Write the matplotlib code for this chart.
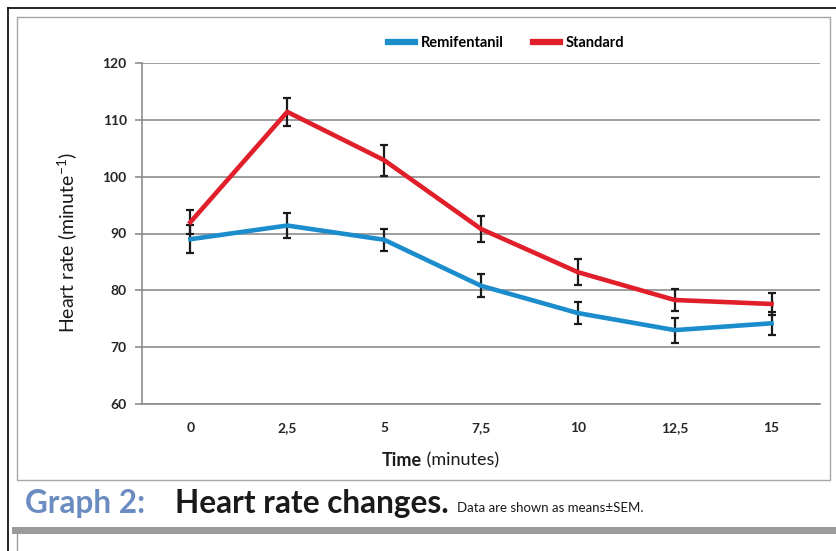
import matplotlib.pyplot as plt
from matplotlib.patches import Rectangle
from matplotlib.lines import Line2D
from matplotlib.offsetbox import TextArea, HPacker, AnchoredOffsetbox

times = ["0", "2,5", "5", "7,5", "10", "12,5", "15"]
remifentanil = [89.0, 91.4, 88.9, 80.8, 76.0, 73.0, 74.2]
remifentanil_sem = [2.5, 2.2, 1.9, 2.0, 2.0, 2.2, 2.0]
standard = [92.0, 111.4, 102.9, 90.8, 83.2, 78.3, 77.6]
standard_sem = [2.1, 2.4, 2.7, 2.3, 2.3, 2.0, 1.9]
y_ticks = [60, 70, 80, 90, 100, 110, 120]

BLUE = "#1b8ccc"
RED = "#e01f2b"
GRID = "#8c8c8c"
FONT = "Lato"

W, H = 836, 551
fig = plt.figure(figsize=(W / 100, H / 100), dpi=100)

def fx(px):
    return px / W

def fy(py):
    return 1 - py / H

# page frame and chart box
fig.patches.append(Line2D([fx(8), fx(8)], [fy(8), fy(551)], transform=fig.transFigure,
                          color="black", lw=1.2, figure=fig))
fig.patches.append(Line2D([fx(8), fx(836)], [fy(8), fy(8)], transform=fig.transFigure,
                          color="black", lw=1.2, figure=fig))
fig.patches.append(Rectangle((fx(17), fy(480)), fx(830) - fx(17), fy(17) - fy(480),
                             transform=fig.transFigure, fill=False, ec="#a6a6a6", lw=1.0))
fig.patches.append(Rectangle((fx(12), fy(534)), 1 - fx(12), fy(527) - fy(534),
                             transform=fig.transFigure, fc="#9b9b9b", ec="none"))
fig.patches.append(Line2D([fx(17), fx(17)], [fy(534), fy(551)], transform=fig.transFigure,
                          color="#9b9b9b", lw=1.0, figure=fig))

ax = fig.add_axes([fx(142), fy(404), fx(820) - fx(142), fy(63) - fy(404)])
x = list(range(len(times)))

ax.errorbar(x, standard, yerr=standard_sem, fmt="none", ecolor="#1a1a1a",
            elinewidth=1.6, capsize=3, capthick=1.6, zorder=2)
ax.errorbar(x, remifentanil, yerr=remifentanil_sem, fmt="none", ecolor="#1a1a1a",
            elinewidth=1.6, capsize=3, capthick=1.6, zorder=2)
ax.plot(x, remifentanil, color=BLUE, lw=3.3, solid_joinstyle="round", zorder=3,
        label="Remifentanil")
ax.plot(x, standard, color=RED, lw=3.3, solid_joinstyle="round", zorder=3,
        label="Standard")

ax.set_xlim(-0.5, len(times) - 0.5)
ax.set_ylim(60, 120)
ax.set_yticks(y_ticks)
ax.set_xticks(x)
ax.set_xticklabels(times)
ax.grid(axis="y", color=GRID, lw=1.2)
ax.set_axisbelow(True)
for s in ["top", "right"]:
    ax.spines[s].set_visible(False)
for s in ["left", "bottom"]:
    ax.spines[s].set_color(GRID)
    ax.spines[s].set_linewidth(1.2)
ax.tick_params(axis="y", length=5, width=1.2, color=GRID, pad=6, labelsize=10)
ax.tick_params(axis="x", length=0, pad=13, labelsize=10)
for lab in ax.get_xticklabels() + ax.get_yticklabels():
    lab.set_fontfamily(FONT)
    lab.set_fontweight("bold")
    lab.set_color("#262626")

leg = ax.legend(loc="center", bbox_to_anchor=(0.537, 1.058), ncol=2, frameon=False,
                prop={"family": FONT, "weight": "bold", "size": 10.5},
                handlelength=1.85, columnspacing=2.0, handletextpad=0.4)
for h in leg.get_lines():
    h.set_linewidth(4.5)

fig.text(fx(68), fy(243), "Heart rate (minute$^{\\mathregular{-1}}$)", rotation=90,
         ha="center", va="center", fontsize=14, family=FONT, color="#1a1a1a")

# axis title with a bold first word
xl = HPacker(children=[
    TextArea("Time", textprops=dict(family=FONT, weight="bold", size=13, color="#1a1a1a")),
    TextArea(" (minutes)", textprops=dict(family=FONT, size=13, color="#1a1a1a")),
], align="baseline", pad=0, sep=0)
fig.add_artist(AnchoredOffsetbox(loc="center", child=xl, pad=0, frameon=False,
                                 bbox_to_anchor=(fx(440), fy(460)),
                                 bbox_transform=fig.transFigure, borderpad=0))

fig.text(fx(25), fy(503), "Graph 2:", ha="left", va="center", fontsize=22.7,
         family=FONT, weight="bold", color="#6b8cc0")
fig.text(fx(175), fy(503), "Heart rate changes.", ha="left", va="center", fontsize=22.7,
         family=FONT, weight="bold", color="#1a1a1a")
fig.text(fx(457), fy(508), "Data are shown as means±SEM.", ha="left", va="center",
         fontsize=9.5, family=FONT, color="#1a1a1a")

fig.savefig("out.png", dpi=100)
